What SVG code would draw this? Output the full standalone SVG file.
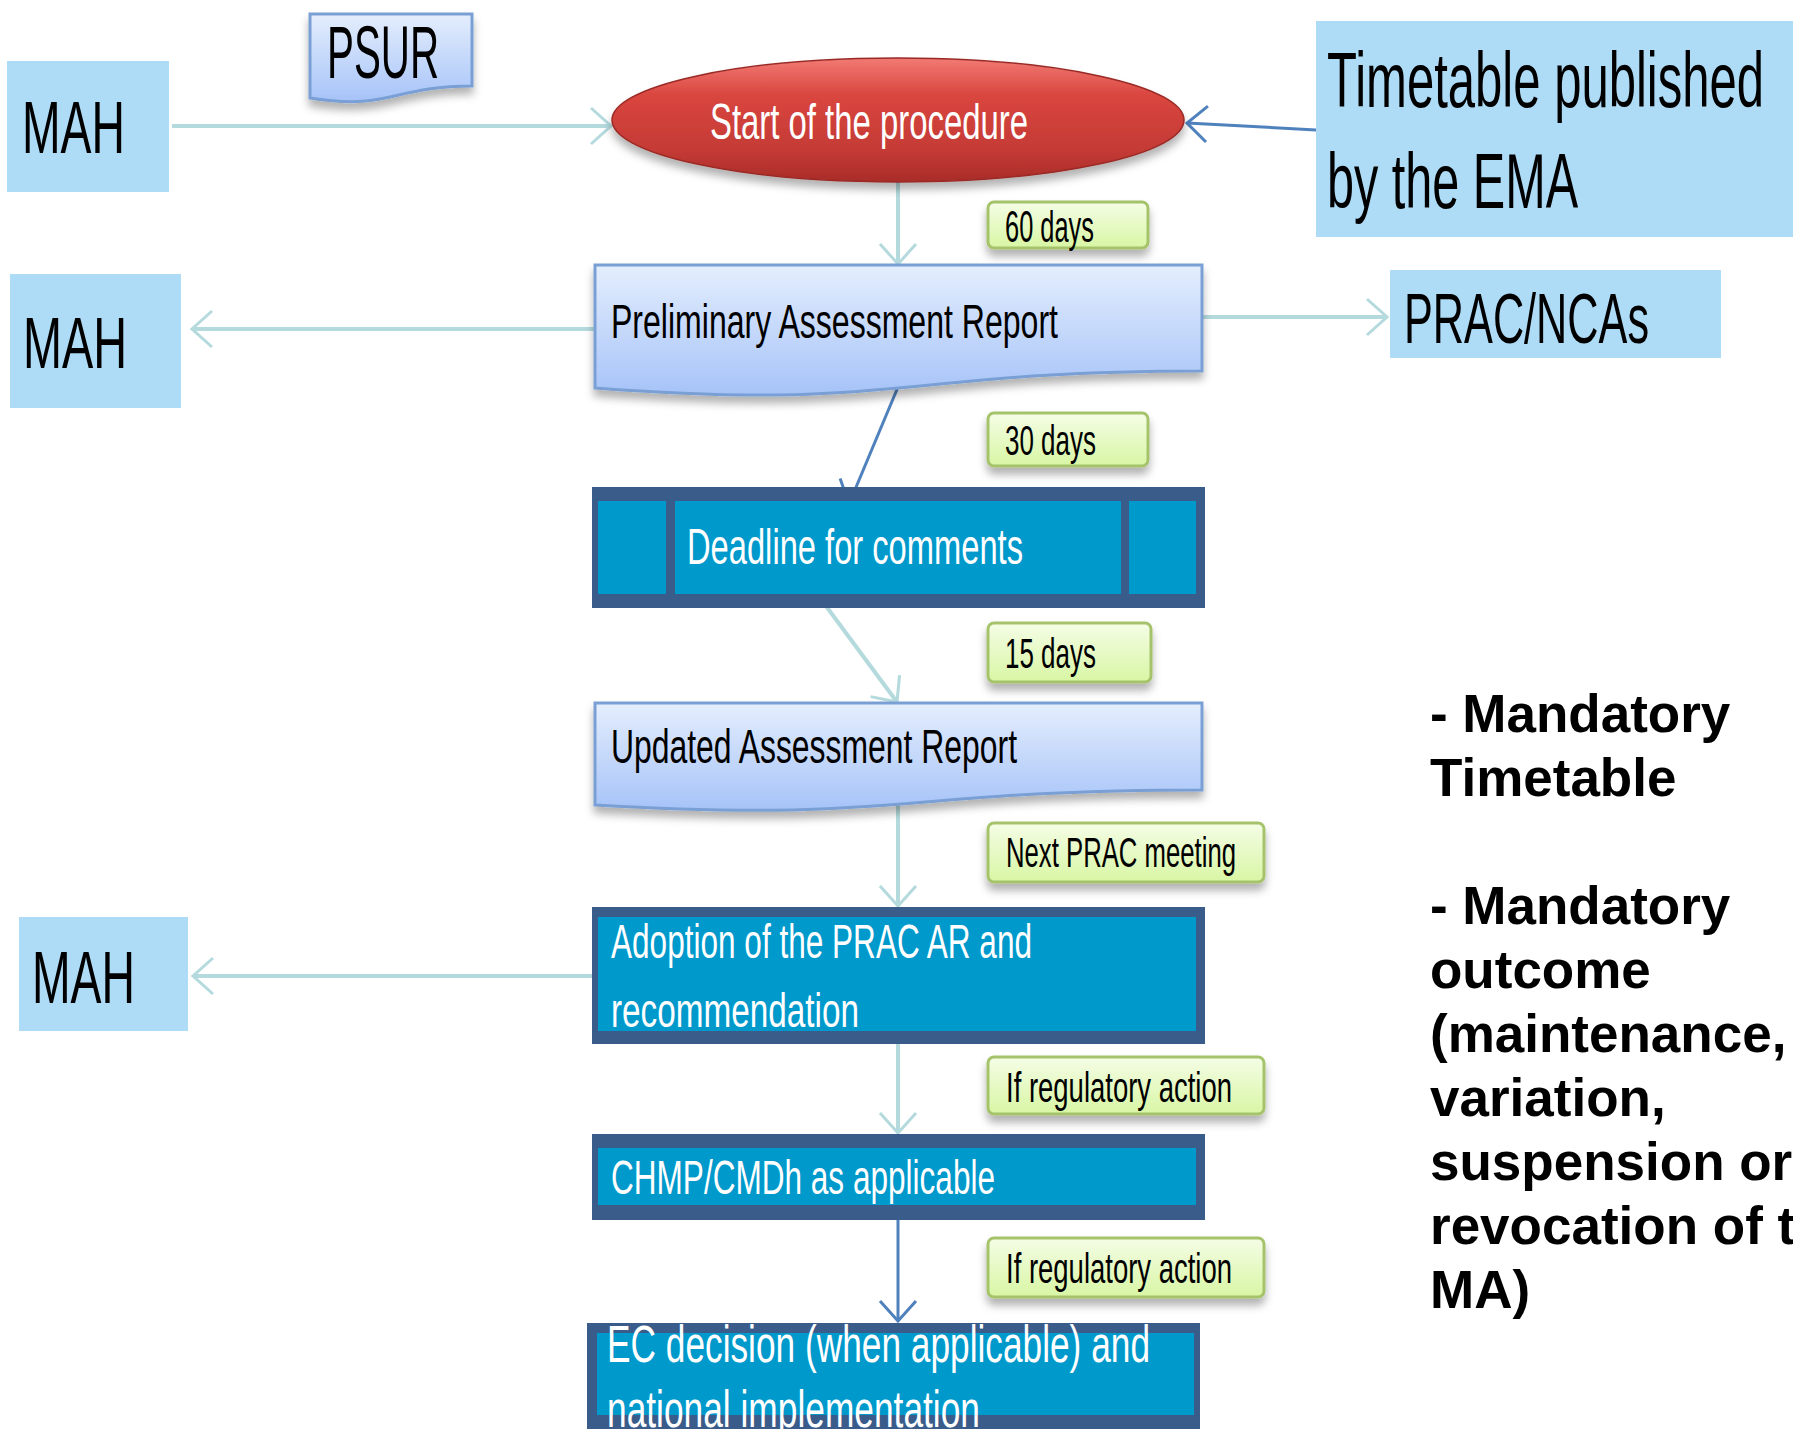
<svg xmlns="http://www.w3.org/2000/svg" width="1793" height="1440" viewBox="0 0 1793 1440">
<style>
.t{font-family:"Liberation Sans",Arial,sans-serif}
.k{fill:#000}
.w{fill:#fff}
.lb{fill:#aedbf5}
.doc{fill:url(#gDoc);stroke:#7a9fd4;stroke-width:3}
.tag{fill:url(#gTag);stroke:#a5c36a;stroke-width:3}
.dk{fill:#395c8a}
.cy{fill:#0099cc}
.ct{fill:none;stroke:#b4dadd;stroke-width:4}
.cb{fill:none;stroke:#4f81bd;stroke-width:3}
.rt{font-family:"Liberation Sans",Arial,sans-serif;font-weight:bold;font-size:53px;fill:#000}
</style>
<defs>
<linearGradient id="gDoc" x1="0" y1="0" x2="0" y2="1">
<stop offset="0" stop-color="#e4eefd"/><stop offset="1" stop-color="#a6c3f8"/>
</linearGradient>
<linearGradient id="gTag" x1="0" y1="0" x2="0" y2="1">
<stop offset="0" stop-color="#f5fde6"/><stop offset="1" stop-color="#d8f6a4"/>
</linearGradient>
<linearGradient id="gRed" x1="0" y1="0" x2="0" y2="1">
<stop offset="0" stop-color="#f27a74"/><stop offset="0.3" stop-color="#d9463f"/><stop offset="0.75" stop-color="#c43a35"/><stop offset="1" stop-color="#a82c28"/>
</linearGradient>
<filter id="sh" x="-10%" y="-20%" width="120%" height="160%">
<feDropShadow dx="0" dy="7" stdDeviation="4" flood-color="#000" flood-opacity="0.3"/>
</filter>
<marker id="aT" markerUnits="userSpaceOnUse" viewBox="0 0 24 40" markerWidth="24" markerHeight="40" refX="22" refY="20" orient="auto">
<path d="M2,2 L22,20 L2,38" fill="none" stroke="#b4dadd" stroke-width="3"/>
</marker>
<marker id="aB" markerUnits="userSpaceOnUse" viewBox="0 0 24 40" markerWidth="24" markerHeight="40" refX="22" refY="20" orient="auto">
<path d="M2,2 L22,20 L2,38" fill="none" stroke="#4f81bd" stroke-width="3"/>
</marker>
<clipPath id="clipBottom"><rect x="0" y="0" width="1793" height="1430"/></clipPath>
</defs>

<g id="connectors">
<line class="ct" x1="172" y1="126" x2="611" y2="126" marker-end="url(#aT)"/>
<line class="cb" x1="1316" y1="130" x2="1187" y2="123" marker-end="url(#aB)"/>
<line class="ct" x1="898" y1="182" x2="898" y2="264" marker-end="url(#aT)"/>
<line class="ct" x1="595" y1="329" x2="192" y2="329" marker-end="url(#aT)"/>
<line class="ct" x1="1202" y1="317" x2="1387" y2="317" marker-end="url(#aT)"/>
<line class="cb" x1="898" y1="387" x2="849" y2="504" marker-end="url(#aB)"/>
<line class="ct" x1="826" y1="606" x2="897" y2="702" marker-end="url(#aT)"/>
<line class="ct" x1="898" y1="790" x2="898" y2="906" marker-end="url(#aT)"/>
<line class="ct" x1="592" y1="976" x2="193" y2="976" marker-end="url(#aT)"/>
<line class="ct" x1="898" y1="1044" x2="898" y2="1133" marker-end="url(#aT)"/>
<line class="cb" x1="898" y1="1220" x2="898" y2="1321" marker-end="url(#aB)"/>
</g>

<g id="mah1">
<rect class="lb" x="7" y="61" width="162" height="131"/>
<text class="t k" x="22" y="153" font-size="74" textLength="103" lengthAdjust="spacingAndGlyphs">MAH</text>
</g>

<g id="psur">
<path class="doc" filter="url(#sh)" d="M310,14 H472 V86 C391,86 391,111 310,98 Z"/>
<text class="t k" x="327" y="78" font-size="74" textLength="112" lengthAdjust="spacingAndGlyphs">PSUR</text>
</g>

<g id="start">
<ellipse cx="898" cy="120" rx="286" ry="62" fill="url(#gRed)" stroke="#9a2a26" stroke-width="1.5" filter="url(#sh)"/>
<text class="t w" x="710" y="139" font-size="50" textLength="318" lengthAdjust="spacingAndGlyphs">Start of the procedure</text>
</g>

<g id="timetable">
<rect class="lb" x="1316" y="21" width="477" height="216"/>
<text class="t k" font-size="77" transform="translate(1327,107) scale(0.637,1)">Timetable published</text>
<text class="t k" font-size="77" transform="translate(1327,208) scale(0.631,1)">by the EMA</text>
</g>

<g id="tag60">
<rect class="tag" x="988" y="202" width="160" height="46" rx="6" filter="url(#sh)"/>
<text class="t k" x="1005" y="242" font-size="44" textLength="89" lengthAdjust="spacingAndGlyphs">60 days</text>
</g>

<g id="par">
<path class="doc" filter="url(#sh)" d="M595,265 H1202 V371 C898,371 898,411 595,388 Z"/>
<text class="t k" x="611" y="338" font-size="49" textLength="447" lengthAdjust="spacingAndGlyphs">Preliminary Assessment Report</text>
</g>

<g id="mah2">
<rect class="lb" x="10" y="274" width="171" height="134"/>
<text class="t k" x="23" y="368" font-size="72" textLength="104" lengthAdjust="spacingAndGlyphs">MAH</text>
</g>

<g id="prac">
<rect class="lb" x="1390" y="270" width="331" height="88"/>
<text class="t k" font-size="71" transform="translate(1404,343) scale(0.609,1)">PRAC/NCAs</text>
</g>

<g id="tag30">
<rect class="tag" x="988" y="413" width="160" height="53" rx="6" filter="url(#sh)"/>
<text class="t k" x="1005" y="455" font-size="42" textLength="91" lengthAdjust="spacingAndGlyphs">30 days</text>
</g>

<g id="deadline">
<rect class="dk" x="592" y="487" width="613" height="121"/>
<rect class="cy" x="598" y="501" width="68" height="93"/>
<rect class="cy" x="675" y="501" width="446" height="93"/>
<rect class="cy" x="1129" y="501" width="67" height="93"/>
<text class="t w" x="687" y="564" font-size="50" textLength="336" lengthAdjust="spacingAndGlyphs">Deadline for comments</text>
</g>

<g id="tag15">
<rect class="tag" x="988" y="623" width="163" height="59" rx="6" filter="url(#sh)"/>
<text class="t k" x="1005" y="668" font-size="42" textLength="91" lengthAdjust="spacingAndGlyphs">15 days</text>
</g>

<g id="updated">
<path class="doc" filter="url(#sh)" d="M595,703 H1202 V790 C898,790 898,823 595,805 Z"/>
<text class="t k" x="611" y="763" font-size="49" textLength="406" lengthAdjust="spacingAndGlyphs">Updated Assessment Report</text>
</g>

<g id="tagPrac">
<rect class="tag" x="988" y="823" width="276" height="59" rx="6" filter="url(#sh)"/>
<text class="t k" x="1006" y="867" font-size="42" textLength="230" lengthAdjust="spacingAndGlyphs">Next PRAC meeting</text>
</g>

<g id="adoption">
<rect class="dk" x="592" y="907" width="613" height="137"/>
<rect class="cy" x="598" y="917" width="598" height="114"/>
<text class="t w" x="611" y="958" font-size="49" textLength="421" lengthAdjust="spacingAndGlyphs">Adoption of the PRAC AR and</text>
<text class="t w" x="611" y="1027" font-size="49" textLength="248" lengthAdjust="spacingAndGlyphs">recommendation</text>
</g>

<g id="mah3">
<rect class="lb" x="19" y="917" width="169" height="114"/>
<text class="t k" x="32" y="1003" font-size="75" textLength="103" lengthAdjust="spacingAndGlyphs">MAH</text>
</g>

<g id="tagReg1">
<rect class="tag" x="988" y="1057" width="276" height="57" rx="6" filter="url(#sh)"/>
<text class="t k" x="1006" y="1102" font-size="42" textLength="226" lengthAdjust="spacingAndGlyphs">If regulatory action</text>
</g>

<g id="chmp">
<rect class="dk" x="592" y="1134" width="613" height="86"/>
<rect class="cy" x="598" y="1148" width="598" height="57"/>
<text class="t w" x="611" y="1194" font-size="48" textLength="384" lengthAdjust="spacingAndGlyphs">CHMP/CMDh as applicable</text>
</g>

<g id="tagReg2">
<rect class="tag" x="988" y="1238" width="276" height="59" rx="6" filter="url(#sh)"/>
<text class="t k" x="1006" y="1283" font-size="42" textLength="226" lengthAdjust="spacingAndGlyphs">If regulatory action</text>
</g>

<g id="ec" clip-path="url(#clipBottom)">
<rect class="dk" x="587" y="1323" width="613" height="106"/>
<rect class="cy" x="597" y="1333" width="597" height="82"/>
<text class="t w" x="607" y="1362" font-size="52" textLength="543" lengthAdjust="spacingAndGlyphs">EC decision (when applicable) and</text>
<text class="t w" x="607" y="1427" font-size="52" textLength="373" lengthAdjust="spacingAndGlyphs">national implementation</text>
</g>

<g id="notes">
<text class="rt" x="1430" y="732">- Mandatory</text>
<text class="rt" x="1430" y="796">Timetable</text>
<text class="rt" x="1430" y="924">- Mandatory</text>
<text class="rt" x="1430" y="988">outcome</text>
<text class="rt" x="1430" y="1052">(maintenance,</text>
<text class="rt" x="1430" y="1116">variation,</text>
<text class="rt" x="1430" y="1180">suspension or</text>
<text class="rt" x="1430" y="1244">revocation of t</text>
<text class="rt" x="1430" y="1308">MA)</text>
</g>
</svg>
